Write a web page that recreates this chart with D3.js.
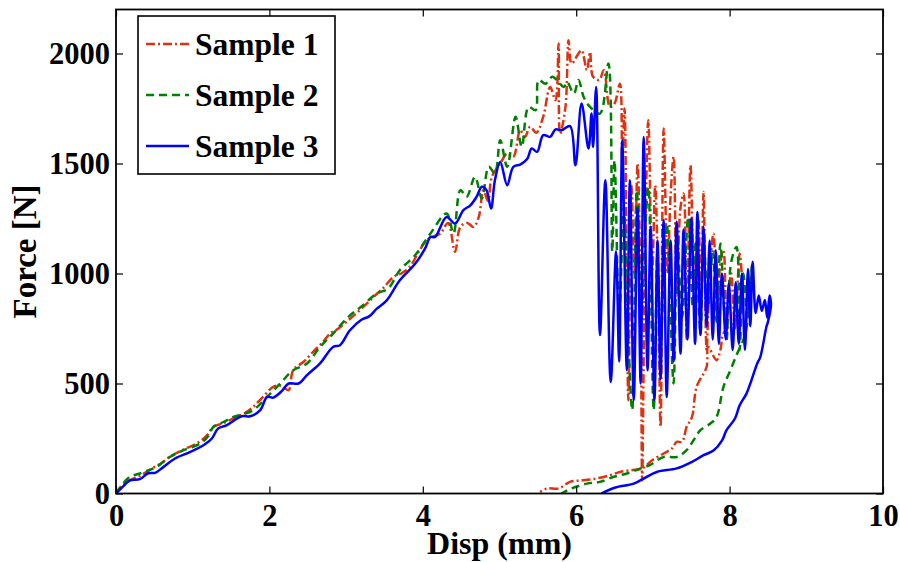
<!DOCTYPE html>
<html><head><meta charset="utf-8">
<script src="https://cdn.jsdelivr.net/npm/d3@7/dist/d3.min.js"></script>
<style>body{margin:0;background:#fff}svg{display:block}text{font-family:"Liberation Serif","Times New Roman",serif;font-weight:bold;fill:#000}</style>
</head><body><svg id="c" width="900" height="562"></svg>
<script>
const xTicks = [0, 2, 4, 6, 8, 10];
const yTicks = [0, 500, 1000, 1500, 2000];
const legendLabels = ["Sample 1", "Sample 2", "Sample 3"];
const xLabel = "Disp (mm)";
const yLabel = "Force [N]";

// Sample 1 (red, dash-dot): [disp, force]
const sample1 = [
[0,0],[0.08,35],[0.18,60],[0.3,78],[0.47,114],[0.6,140],[0.7,166],[0.88,200],[1.05,227],[1.18,262],[1.27,303],[1.4,320],[1.57,348],[1.68,365],[1.79,394],[1.92,440],[2.05,485],[2.15,490],[2.25,470],[2.31,560],[2.45,600],[2.57,644],[2.7,690],[2.79,727],[2.9,750],[3.03,788],[3.2,840],[3.36,894],[3.5,940],[3.62,985],[3.72,1000],[3.83,1030],[3.95,1100],[4.05,1151],[4.15,1170],[4.23,1182],[4.33,1230],[4.42,1099],[4.49,1212],[4.58,1230],[4.66,1212],[4.73,1257],[4.79,1379],[4.85,1330],[4.9,1439],[5.01,1500],[5.1,1545],[5.18,1530],[5.27,1651],[5.33,1620],[5.4,1667],[5.48,1640],[5.57,1712],[5.66,1848],[5.73,1788],[5.77,2045],[5.79,1636],[5.86,1757],[5.9,2060],[5.94,1954],[6.03,2000],[6.07,2015],[6.14,1924],[6.18,2007],[6.22,1894],[6.3,1880],[6.36,1924],[6.44,1757],[6.5,1773],[6.57,1863],
[6.6,1500],[6.63,1750],[6.66,900],[6.68,424],[6.72,1400],[6.76,1000],[6.8,1500],[6.84,880],[6.86,60],[6.89,900],[6.94,1697],[6.99,1000],[7.03,1400],[7.07,900],[7.1,303],[7.14,1659],[7.19,1000],[7.23,1350],[7.27,1530],[7.31,900],[7.36,1300],[7.4,1364],[7.44,697],[7.49,1492],[7.54,950],[7.59,1250],[7.63,900],[7.66,1371],[7.7,652],[7.74,1000],[7.79,1182],[7.84,800],[7.88,1050],[7.92,1106],[7.96,780],[8.02,1000],[8.07,750],[8.13,1091],[8.16,850],[8.1,800],
[7.92,727],[7.88,652],[7.83,606],[7.72,666],[7.7,575],[7.57,485],[7.51,348],[7.44,303],[7.38,235],[7.31,235],[7.25,205],[7.14,182],[6.99,151],[6.86,114],[6.72,106],[6.57,98],[6.44,83],[6.26,68],[6.09,60],[5.92,53],[5.77,23],[5.62,23],[5.53,7]
];

// Sample 2 (green, dashed)
const sample2 = [
[0,0],[0.08,40],[0.18,76],[0.31,91],[0.42,105],[0.53,121],[0.7,166],[0.88,197],[1.1,227],[1.2,260],[1.27,303],[1.4,325],[1.53,348],[1.65,360],[1.79,379],[1.97,439],[2.14,500],[2.31,560],[2.49,591],[2.66,666],[2.83,727],[3.03,803],[3.2,850],[3.4,909],[3.55,932],[3.7,1015],[3.9,1083],[4.1,1182],[4.31,1273],[4.4,1182],[4.49,1379],[4.57,1348],[4.68,1439],[4.77,1341],[4.86,1485],[4.94,1455],[5.01,1606],[5.1,1485],[5.21,1712],[5.29,1576],[5.38,1757],[5.47,1742],[5.51,1879],[5.6,1863],[5.69,1894],[5.77,1871],[5.84,1848],[5.88,1871],[5.97,1818],[6.03,1879],[6.1,1800],[6.18,1757],[6.31,1727],[6.42,1954],
[6.47,1100],[6.5,1515],[6.56,800],[6.62,1300],[6.68,700],[6.73,379],[6.79,1379],[6.85,800],[6.9,1200],[6.94,1394],[7.01,379],[7.06,1100],[7.1,700],[7.18,1227],[7.23,800],[7.27,500],[7.32,1150],[7.38,800],[7.46,1257],[7.52,850],[7.56,1150],[7.62,727],[7.66,1166],[7.72,850],[7.78,1100],[7.83,780],[7.88,1136],[7.93,820],[7.96,697],[8.02,1050],[8.09,1121],[8.13,652],[8.18,1000],[8.23,800],[8.29,1038],[8.26,850],[8.2,720],
[8.16,682],[8.09,629],[8.01,560],[7.92,485],[7.83,348],[7.75,318],[7.62,288],[7.53,242],[7.44,197],[7.31,166],[7.14,166],[6.96,129],[6.84,114],[6.66,91],[6.49,76],[6.31,53],[6.14,45],[5.94,23],[5.81,0]
];

// Sample 3 (blue, solid)
const sample3 = [
[0,0],[0.1,35],[0.18,60],[0.31,65],[0.42,92],[0.51,94],[0.62,121],[0.77,159],[0.97,189],[1.16,224],[1.25,250],[1.33,295],[1.44,310],[1.64,351],[1.75,351],[1.88,379],[1.97,439],[2.05,436],[2.16,465],[2.25,500],[2.38,500],[2.49,538],[2.66,591],[2.83,666],[2.92,674],[3.05,742],[3.2,790],[3.3,805],[3.4,840],[3.53,878],[3.7,969],[3.9,1044],[4.03,1114],[4.1,1166],[4.16,1166],[4.31,1257],[4.42,1227],[4.53,1288],[4.62,1310],[4.7,1348],[4.77,1394],[4.83,1379],[4.89,1295],[4.94,1424],[5.01,1507],[5.1,1401],[5.18,1485],[5.27,1495],[5.36,1520],[5.42,1568],[5.49,1553],[5.57,1629],[5.66,1621],[5.73,1655],[5.81,1651],[5.92,1670],[5.99,1492],[6.07,1773],[6.16,1568],[6.2,1727],[6.22,1575],[6.26,1848],
[6.31,720],[6.38,1424],[6.45,507],[6.52,1100],[6.56,600],[6.6,1606],[6.66,560],[6.7,1424],[6.75,424],[6.8,1300],[6.84,500],[6.88,1620],[6.93,560],[6.97,1212],[7.02,424],[7.06,1150],[7.1,520],[7.14,1242],[7.18,439],[7.23,1150],[7.27,600],[7.31,1235],[7.36,636],[7.4,1200],[7.45,700],[7.5,1250],[7.55,680],[7.58,1280],[7.62,720],[7.66,1212],[7.7,760],[7.74,1150],[7.78,700],[7.82,1106],[7.86,680],[7.9,1000],[7.95,700],[7.99,955],[8.04,652],[8.08,960],[8.12,680],[8.16,1000],[8.2,652],[8.24,1020],[8.27,760],[8.3,1053],[8.34,820],[8.38,900],[8.42,830],[8.46,880],[8.49,800],[8.52,900],[8.54,860],[8.5,780],
[8.48,758],[8.4,620],[8.36,591],[8.28,510],[8.22,454],[8.13,400],[8.07,341],[7.96,288],[7.9,240],[7.79,195],[7.66,174],[7.51,144],[7.31,114],[7.05,98],[6.88,68],[6.75,45],[6.49,25],[6.33,0]
];

const series = [
  {name: legendLabels[0], data: sample1, color: "#dd3311", dash: "9,3,2,3"},
  {name: legendLabels[1], data: sample2, color: "#008000", dash: "8,5"},
  {name: legendLabels[2], data: sample3, color: "#0000ff", dash: null}
];

const svg = d3.select("#c");
const L = 116, R = 883, T = 9.5, B = 493.5;
const x = d3.scaleLinear().domain([0, 10]).range([L, R]);
const y = d3.scaleLinear().domain([0, 2200]).range([B, T]);

svg.append("clipPath").attr("id","clip").append("rect")
  .attr("x", L).attr("y", T).attr("width", R-L).attr("height", B-T);

const line = d3.line().x(d => x(d[0])).y(d => y(d[1])).curve(d3.curveCatmullRom.alpha(0.5));
const g = svg.append("g").attr("clip-path","url(#clip)");
series.forEach(s => {
  g.append("path").attr("d", line(s.data)).attr("fill","none")
   .attr("stroke", s.color).attr("stroke-width", 2.5)
   .attr("stroke-dasharray", s.dash).attr("stroke-linejoin","round");
});

// axes
const tl = 7;
const xb = svg.append("g").attr("transform", `translate(0,${B})`)
  .call(d3.axisBottom(x).tickValues(xTicks).tickFormat(d3.format("d")).tickSizeInner(-tl).tickSizeOuter(0).tickPadding(11));
const xt = svg.append("g").attr("transform", `translate(0,${T})`)
  .call(d3.axisTop(x).tickValues(xTicks).tickFormat("").tickSizeInner(-tl).tickSizeOuter(0));
const yl = svg.append("g").attr("transform", `translate(${L},0)`)
  .call(d3.axisLeft(y).tickValues(yTicks).tickFormat(d3.format("d")).tickSizeInner(-tl).tickSizeOuter(0).tickPadding(6));
const yr = svg.append("g").attr("transform", `translate(${R},0)`)
  .call(d3.axisRight(y).tickValues(yTicks).tickFormat("").tickSizeInner(-tl).tickSizeOuter(0));
[xb, xt, yl, yr].forEach(a => {
  a.select(".domain").remove();
  a.selectAll("line").attr("stroke","#000").attr("stroke-width",1.2);
  a.selectAll("text").attr("font-size", 30.5).attr("font-family", "Liberation Serif").attr("font-weight","bold").attr("fill","#000");
});
yl.selectAll("text").attr("dy","0.34em");
xb.selectAll("text").attr("dy","0.71em");

svg.append("rect").attr("x", L).attr("y", T).attr("width", R-L).attr("height", B-T)
  .attr("fill","none").attr("stroke","#000").attr("stroke-width",1.8);

svg.append("text").attr("x", (L+R)/2).attr("y", 554).attr("text-anchor","middle").attr("font-size",32).text(xLabel);
svg.append("text").attr("transform", `translate(36,${(T+B)/2}) rotate(-90)`).attr("text-anchor","middle").attr("font-size",33).text(yLabel);

// legend
const lg = svg.append("g");
lg.append("rect").attr("x",138).attr("y",16).attr("width",197).attr("height",158).attr("fill","#fff").attr("stroke","#000").attr("stroke-width",1.6);
series.forEach((s, i) => {
  const cy = 44 + i*51;
  lg.append("line").attr("x1",146).attr("x2",189).attr("y1",cy).attr("y2",cy)
    .attr("stroke", s.color).attr("stroke-width",2.5).attr("stroke-dasharray", s.dash);
  lg.append("text").attr("x",195).attr("y",cy+11).attr("font-size",31.5).text(s.name);
});
</script></body></html>
